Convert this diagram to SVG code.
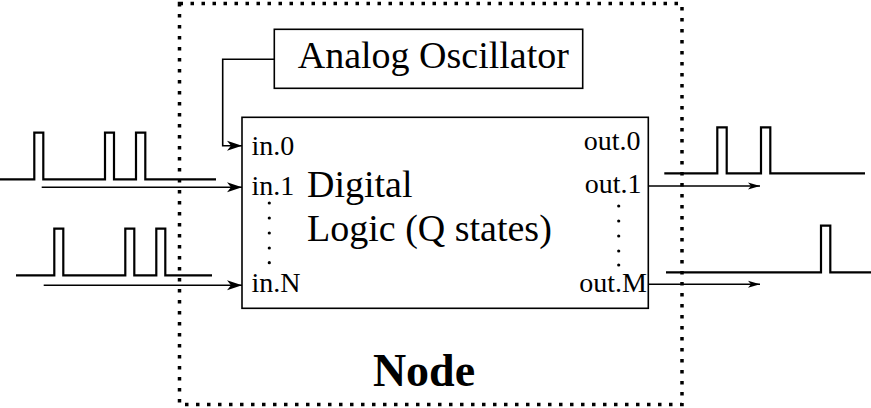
<svg xmlns="http://www.w3.org/2000/svg" width="871" height="408" viewBox="0 0 871 408">
<style>
.t{font-family:"Liberation Serif","Times New Roman",serif;fill:#000}
.lbl{font-size:28px}
.main{font-size:38px}
.box{fill:none;stroke:#000;stroke-width:1.6}
.pulse{fill:none;stroke:#000;stroke-width:2.2}
.wire{fill:none;stroke:#000;stroke-width:1.6}
.inarr{marker-end:url(#bigHead)}
.outarr{marker-end:url(#smallHead)}
.dot{fill:#000}
</style>
<defs>
<marker id="bigHead" markerUnits="userSpaceOnUse" markerWidth="20" markerHeight="14" refX="16" refY="6" orient="auto" overflow="visible">
<path d="M16,6 L1,1 L5,6 L1,11 Z" fill="#000"/>
</marker>
<marker id="smallHead" markerUnits="userSpaceOnUse" markerWidth="16" markerHeight="10" refX="13" refY="4" orient="auto" overflow="visible">
<path d="M13,4 L1,0.5 L4,4 L1,7.5 Z" fill="#000"/>
</marker>
</defs>

<g id="node-boundary">
<rect x="179.5" y="3.5" width="502.5" height="401" fill="none" stroke="#000" stroke-width="3.5" stroke-dasharray="3.5 7.5"/>
<text class="t" x="424" y="385.5" font-size="46" font-weight="bold" text-anchor="middle">Node</text>
</g>

<g id="oscillator">
<rect class="box" x="274.3" y="29.3" width="308.4" height="59"/>
<text class="t" x="297.7" y="68.3" font-size="38">Analog Oscillator</text>
</g>

<g id="logic">
<rect class="box" x="242" y="117.3" width="406.3" height="191"/>
<text class="t lbl" x="251.5" y="155">in.0</text>
<text class="t lbl" x="251.5" y="195">in.1</text>
<text class="t lbl" x="251.5" y="291.7">in.N</text>
<circle class="dot" cx="269.3" cy="203" r="1.6"/>
<circle class="dot" cx="269.3" cy="218" r="1.6"/>
<circle class="dot" cx="269.3" cy="233" r="1.6"/>
<circle class="dot" cx="269.3" cy="248" r="1.6"/>
<circle class="dot" cx="269.3" cy="262.7" r="1.6"/>
<text class="t main" x="307" y="196.7">Digital</text>
<text class="t main" x="307" y="241">Logic (Q states)</text>
<text class="t lbl" x="640.5" y="150" text-anchor="end">out.0</text>
<text class="t lbl" x="641.5" y="193.3" text-anchor="end">out.1</text>
<text class="t lbl" x="647" y="291.7" text-anchor="end">out.M</text>
<circle class="dot" cx="618.7" cy="206" r="1.6"/>
<circle class="dot" cx="618.7" cy="221" r="1.6"/>
<circle class="dot" cx="618.7" cy="236" r="1.6"/>
<circle class="dot" cx="618.7" cy="251" r="1.6"/>
<circle class="dot" cx="618.7" cy="265" r="1.6"/>
</g>

<g id="signals">
<path class="pulse" d="M0,179.3 H34.3 V132.7 H43.3 V179.3 H105 V132.7 H114 V179.3 H136 V132.7 H145.3 V179.3 H216"/>
<path class="pulse" d="M16,275.3 H54.3 V228.7 H63.3 V275.3 H125.3 V228.7 H134.3 V275.3 H156.3 V228.7 H165.3 V275.3 H212"/>
<path class="pulse" d="M664.3,173.3 H717.3 V127.3 H726.7 V173.3 H761 V127.3 H770.3 V173.3 H865"/>
<path class="pulse" d="M666,272.3 H821 V225.7 H830.3 V272.3 H871"/>
</g>

<g id="connectors">
<path class="wire inarr" d="M274.3,59.3 H222.7 V145.7 H242"/>
<path class="wire inarr" d="M41.7,187.3 H242"/>
<path class="wire inarr" d="M43.7,285.3 H242"/>
<path class="wire outarr" d="M648.3,186 H760"/>
<path class="wire outarr" d="M648.3,284.3 H760"/>
</g>
</svg>
